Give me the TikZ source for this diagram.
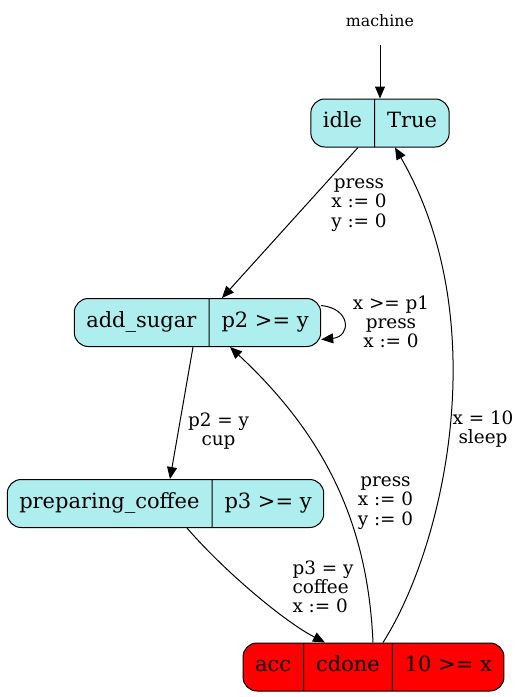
\documentclass[tikz,border=0pt]{standalone}
\usepackage{fontspec}
\setmainfont{DejaVu Serif}
\usetikzlibrary{shapes.multipart,arrows.meta,calc}
\definecolor{paleturq}{HTML}{AFEEEE}

\begin{document}
\begin{tikzpicture}[x=0.5pt,y=-0.5pt,
	state/.style={rectangle split, rectangle split horizontal, rectangle split parts=#1,
		draw, line width=0.5pt, fill=paleturq, rounded corners=7pt,
		inner xsep=6pt, inner ysep=6pt,
		font=\fontsize{10.5}{12}\selectfont},
	state/.default=2,
	trans/.style={-{Triangle[length=6pt,width=5pt]}, line width=0.5pt},
	lbl/.style={font=\fontsize{9.2}{9.6}\selectfont, align=center, inner sep=0pt}]
%	\draw (0,0) rectangle (522,697);
	\useasboundingbox (0,0) rectangle (522,697);

	% locations
	\node (machine) at (380,21) {\fontsize{7.9}{9}\selectfont machine};
	\coordinate (init) at (380,45);

	\node[state] (idle) at (380,123) {\strut idle \nodepart{two} \strut True};
	\node[state] (add_sugar) at (197.5,322.5) {\strut add\_sugar \nodepart{two} \strut p2 >= y};
	\node[state] (preparing_coffee) at (165.5,503.5) {\strut preparing\_coffee \nodepart{two} \strut p3 >= y};
	\node[state=3, fill=red] (acc) at (373.5,667) {\strut acc \nodepart{two} \strut cdone \nodepart{three} \strut 10 >= x};

	% transitions
	\draw[trans] (init) -- (idle.north);

	\draw[trans] ($(idle.south)+(-22,0)$) -- ($(add_sugar.north)+(24.5,0)$);
	\node[lbl] (l_idle) at (359,205) {press\\x := 0\\y := 0};

	\draw[trans] ($(add_sugar.east)+(0,-17)$) .. controls +(30,3) and +(30,-3) .. ($(add_sugar.east)+(0,17)$);
	\node[lbl] (l_loop) at (391,322) {x >= p1\\press\\x := 0};

	\draw[trans] ($(add_sugar.south)+(-4.5,0)$) -- ($(preparing_coffee.north)+(4.5,0)$);
	\node[lbl] (l_cup) at (218.5,431) {p2 = y\\cup};

	\draw[trans] ($(preparing_coffee.south)+(21.5,0)$) .. controls (225,572) and (285,622) .. ($(acc.north)+(-48.5,0)$);
	\node[lbl, align=left] (l_coffee) at (323,587) {p3 = y\\coffee\\x := 0};

	\draw[trans] ($(acc.north)+(-0.5,0)$) .. controls (368,530) and (330,440) .. ($(add_sugar.south)+(32.5,0)$);
	\node[lbl] (l_back) at (385.5,503) {press\\x := 0\\y := 0};

	\draw[trans] ($(acc.north)+(9.5,0)$) .. controls (445,545) and (495,320) .. ($(idle.south)+(15,0)$);
	\node[lbl] (l_sleep) at (483,429) {x = 10\\sleep};
\end{tikzpicture}
\end{document}
